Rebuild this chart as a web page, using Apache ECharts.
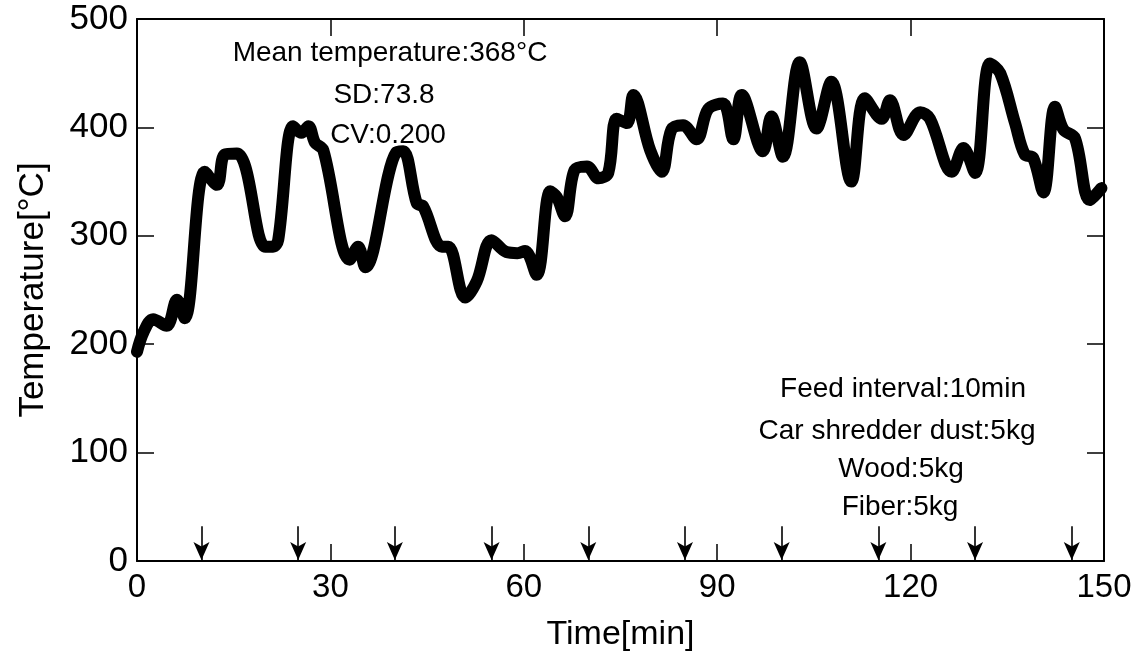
<!DOCTYPE html>
<html><head><meta charset="utf-8">
<script src="https://cdn.jsdelivr.net/npm/echarts/dist/echarts.min.js"></script>
<style>html,body{margin:0;padding:0;background:#fff}#c{width:1146px;height:657px}</style>
</head><body><div id="c"></div><script>
const times = [0, 1.0, 2.5, 4.6, 6.2, 7.4, 10.5, 12.4, 13.6, 15.5, 16.8, 19.9, 21.1, 21.9, 24.2, 25.5, 26.6, 27.6, 28.9, 33, 34.3, 35.4, 40.2, 41.3, 43.4, 44.4, 47.3, 48.3, 50.9, 52.7, 55, 57.3, 59.0, 60.2, 62, 64.1, 65.1, 66.4, 67.9, 69.8, 71.6, 73.1, 74.4, 76, 77, 79.6, 81.4, 82.9, 84.7, 86.8, 88.6, 90.9, 92.5, 93.8, 97.1, 98.4, 100.2, 102.8, 105.4, 107.7, 110.8, 112.9, 115.5, 116.8, 118.9, 121.5, 123, 126.4, 128.2, 130, 132.3, 133.9, 136.2, 137.7, 139, 140.6, 142.4, 143.7, 145.5, 147.8, 149.6];
const temps = [193, 211, 223, 217, 241, 224, 359, 347, 375, 376, 364, 290, 290, 296, 401, 395, 401, 386, 379, 278, 290, 271, 377, 378, 330, 327, 290, 290, 243, 258, 296, 285, 284, 286, 264, 341, 336, 318, 361, 364, 353, 358, 408, 404, 430, 379, 359, 398, 402, 389, 417, 422, 389, 430, 378, 410, 373, 460, 399, 442, 350, 427, 408, 425, 393, 414, 408, 359, 381, 358, 459, 450, 404, 375, 372, 340, 419, 398, 390, 333, 344];
const feedTimes = [10, 25, 40, 55, 70, 85, 100, 115, 130, 145];
const statsText = ['Mean temperature:368°C', 'SD:73.8', 'CV:0.200'];
const conditionText = ['Feed interval:10min', 'Car shredder dust:5kg', 'Wood:5kg', 'Fiber:5kg'];

const FONT = '"Liberation Sans", Arial, sans-serif';
const chart = echarts.init(document.getElementById('c'), null, {renderer: 'canvas'});
const axLine = {show: true, onZero: false, lineStyle: {color: '#000', width: 2}};
const tickIn = {show: true, inside: true, length: 17, lineStyle: {color: '#000', width: 1.5}};

const statsPos = [[390, 53], [384, 95], [388, 135]];
const condPos = [[903, 389], [897, 431], [901, 469], [900, 507]];
const graphics = [];
statsText.forEach((t, i) => graphics.push({type: 'text', x: statsPos[i][0], y: statsPos[i][1], style: {text: t, align: 'center', verticalAlign: 'middle', fontSize: 28, fontFamily: FONT, fill: '#000'}}));
conditionText.forEach((t, i) => graphics.push({type: 'text', x: condPos[i][0], y: condPos[i][1], style: {text: t, align: 'center', verticalAlign: 'middle', fontSize: 28, fontFamily: FONT, fill: '#000'}}));

chart.setOption({
  animation: false,
  backgroundColor: '#fff',
  grid: {left: 137, right: 42, top: 19, bottom: 95},
  xAxis: [
    {type: 'value', min: 0, max: 150, interval: 30, position: 'bottom', axisLine: axLine, axisTick: tickIn,
     axisLabel: {color: '#000', fontSize: 33, fontFamily: FONT, margin: 10}, splitLine: {show: false},
     name: 'Time[min]', nameLocation: 'middle', nameGap: 57, nameTextStyle: {color: '#000', fontSize: 34, fontFamily: FONT}},
    {type: 'value', min: 0, max: 150, interval: 30, position: 'top', axisLine: axLine, axisTick: tickIn,
     axisLabel: {show: false}, splitLine: {show: false}}
  ],
  yAxis: [
    {type: 'value', min: 0, max: 500, interval: 100, position: 'left', axisLine: axLine, axisTick: tickIn,
     axisLabel: {color: '#000', fontSize: 35, fontFamily: FONT, margin: 9}, splitLine: {show: false},
     name: 'Temperature[°C]', nameLocation: 'middle', nameGap: 86, nameRotate: 90, nameTextStyle: {color: '#000', fontSize: 35, fontFamily: FONT}},
    {type: 'value', min: 0, max: 500, interval: 100, position: 'right', axisLine: axLine, axisTick: tickIn,
     axisLabel: {show: false}, splitLine: {show: false}}
  ],
  graphic: graphics,
  series: [{
    type: 'line',
    xAxisIndex: 0, yAxisIndex: 0,
    data: times.map((t, i) => [t, temps[i]]),
    showSymbol: false,
    smooth: 0.35,
    lineStyle: {color: '#000', width: 12, cap: 'round', join: 'round'},
    markLine: {
      silent: true,
      symbol: ['none', 'arrow'],
      symbolSize: [12, 18],
      lineStyle: {color: '#000', width: 1.6, type: 'solid'},
      label: {show: false},
      data: feedTimes.map(t => [{coord: [t, 32]}, {coord: [t, 1]}])
    }
  }]
});
</script></body></html>
